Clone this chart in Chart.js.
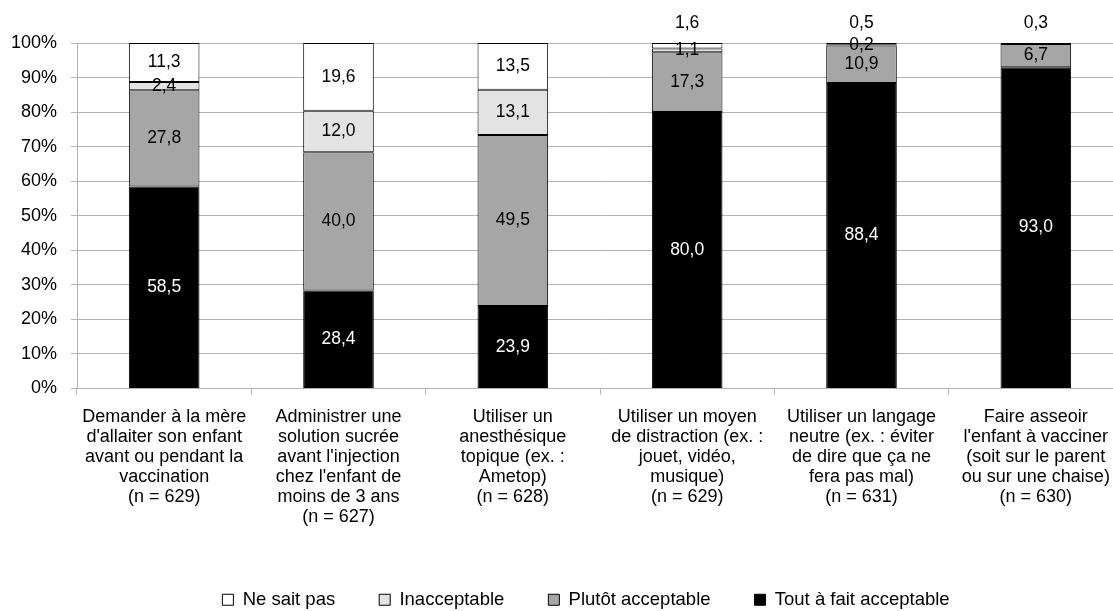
<!DOCTYPE html>
<html>
<head>
<meta charset="utf-8">
<script src="https://cdn.jsdelivr.net/npm/chart.js@4/dist/chart.umd.min.js"></script>
<style>
  html, body { margin: 0; padding: 0; background: #fff; overflow: hidden; }
  #wrap { width: 1113px; height: 611px; overflow: hidden; }
</style>
</head>
<body>
<div id="wrap"><canvas id="chart" width="1124" height="619"></canvas></div>
<script>
// categories (multi-line labels)
const categories = [
    ["Demander à la mère", "d'allaiter son enfant", "avant ou pendant la", "vaccination", "(n = 629)"],
    ["Administrer une", "solution sucrée", "avant l'injection", "chez l'enfant de", "moins de 3 ans", "(n = 627)"],
    ["Utiliser un", "anesthésique", "topique (ex. :", "Ametop)", "(n = 628)"],
    ["Utiliser un moyen", "de distraction (ex. :", "jouet, vidéo,", "musique)", "(n = 629)"],
    ["Utiliser un langage", "neutre (ex. : éviter", "de dire que ça ne", "fera pas mal)", "(n = 631)"],
    ["Faire asseoir", "l'enfant à vacciner", "(soit sur le parent", "ou sur une chaise)", "(n = 630)"]
];

// series values (%)
const toutAFait    = [58.5, 28.4, 23.9, 80.0, 88.4, 93.0];
const plutot       = [27.8, 40.0, 49.5, 17.3, 10.9, 6.7];
const inacceptable = [2.4, 12.0, 13.1, 1.1, 0.2, 0];
const neSaitPas    = [11.3, 19.6, 13.5, 1.6, 0.5, 0.3];

const yTicks = [0, 10, 20, 30, 40, 50, 60, 70, 80, 90, 100];

const FONT = "'Liberation Sans', Arial, Helvetica, sans-serif";
const GRID = "#b3b3b3";

// étiquettes de valeurs sur chaque segment
const valueLabels = {
    id: "valueLabels",
    afterDatasetsDraw(chart) {
        const ctx = chart.ctx;
        ctx.save();
        ctx.font = "17.5px " + FONT;
        ctx.textAlign = "center";
        ctx.textBaseline = "middle";
        chart.data.datasets.forEach((ds, di) => {
            const meta = chart.getDatasetMeta(di);
            meta.data.forEach((bar, i) => {
                const v = ds.data[i];
                if (!v) return;
                const txt = v.toFixed(1).replace(".", ",");
                let y = (bar.y + bar.base) / 2;
                if (di === 3 && v < 5) {
                    y = bar.y - 20; // petite valeur au-dessus de la barre
                }
                ctx.fillStyle = di === 0 ? "#fff" : "#000";
                ctx.fillText(txt, bar.x, y);
            });
        });
        ctx.restore();
    }
};

// décaler un peu la légende vers la gauche
const legendShift = {
    id: "legendShift",
    afterLayout(chart) {
        if (chart.legend) {
            chart.legend.left -= 14;
            chart.legend.right -= 14;
        }
    }
};

const ctx = document.getElementById("chart").getContext("2d");
new Chart(ctx, {
    type: "bar",
    data: {
        labels: categories,
        datasets: [
            { label: "Tout à fait acceptable", data: toutAFait, backgroundColor: "#000000" },
            { label: "Plutôt acceptable", data: plutot, backgroundColor: "#a6a6a6" },
            { label: "Inacceptable", data: inacceptable, backgroundColor: "#e3e3e3" },
            { label: "Ne sait pas", data: neSaitPas, backgroundColor: "#ffffff" }
        ].map(d => Object.assign(d, {
            borderColor: "#000",
            borderWidth: 1,
            borderSkipped: false,
            barPercentage: 0.405,
            categoryPercentage: 1
        }))
    },
    options: {
        responsive: false,
        animation: false,
        layout: { padding: { top: 43, left: 0, right: 1, bottom: 0 } },
        plugins: {
            legend: {
                position: "bottom",
                reverse: true,
                fullSize: false,
                labels: {
                    color: "#000",
                    font: { family: FONT, size: 18.5 },
                    boxWidth: 11,
                    boxHeight: 11,
                    padding: 44
                }
            },
            tooltip: { enabled: false }
        },
        scales: {
            x: {
                stacked: true,
                grid: { drawOnChartArea: false, color: GRID, tickLength: 6, offset: true },
                border: { color: GRID },
                ticks: {
                    color: "#000",
                    font: { family: FONT, size: 18, lineHeight: 1.12 },
                    maxRotation: 0,
                    autoSkip: false,
                    padding: 12
                },
                afterFit(scale) { scale.height = 158; }
            },
            y: {
                stacked: true,
                min: 0,
                max: 100,
                afterBuildTicks(scale) { scale.ticks = yTicks.map(v => ({ value: v })); },
                grid: { color: GRID, tickLength: 6 },
                border: { color: GRID },
                ticks: {
                    color: "#000",
                    font: { family: FONT, size: 18 },
                    padding: 14,
                    callback: v => v + "%"
                },
                afterFit(scale) { scale.width = 77; }
            }
        }
    },
    plugins: [valueLabels, legendShift]
});
</script>
</body>
</html>
